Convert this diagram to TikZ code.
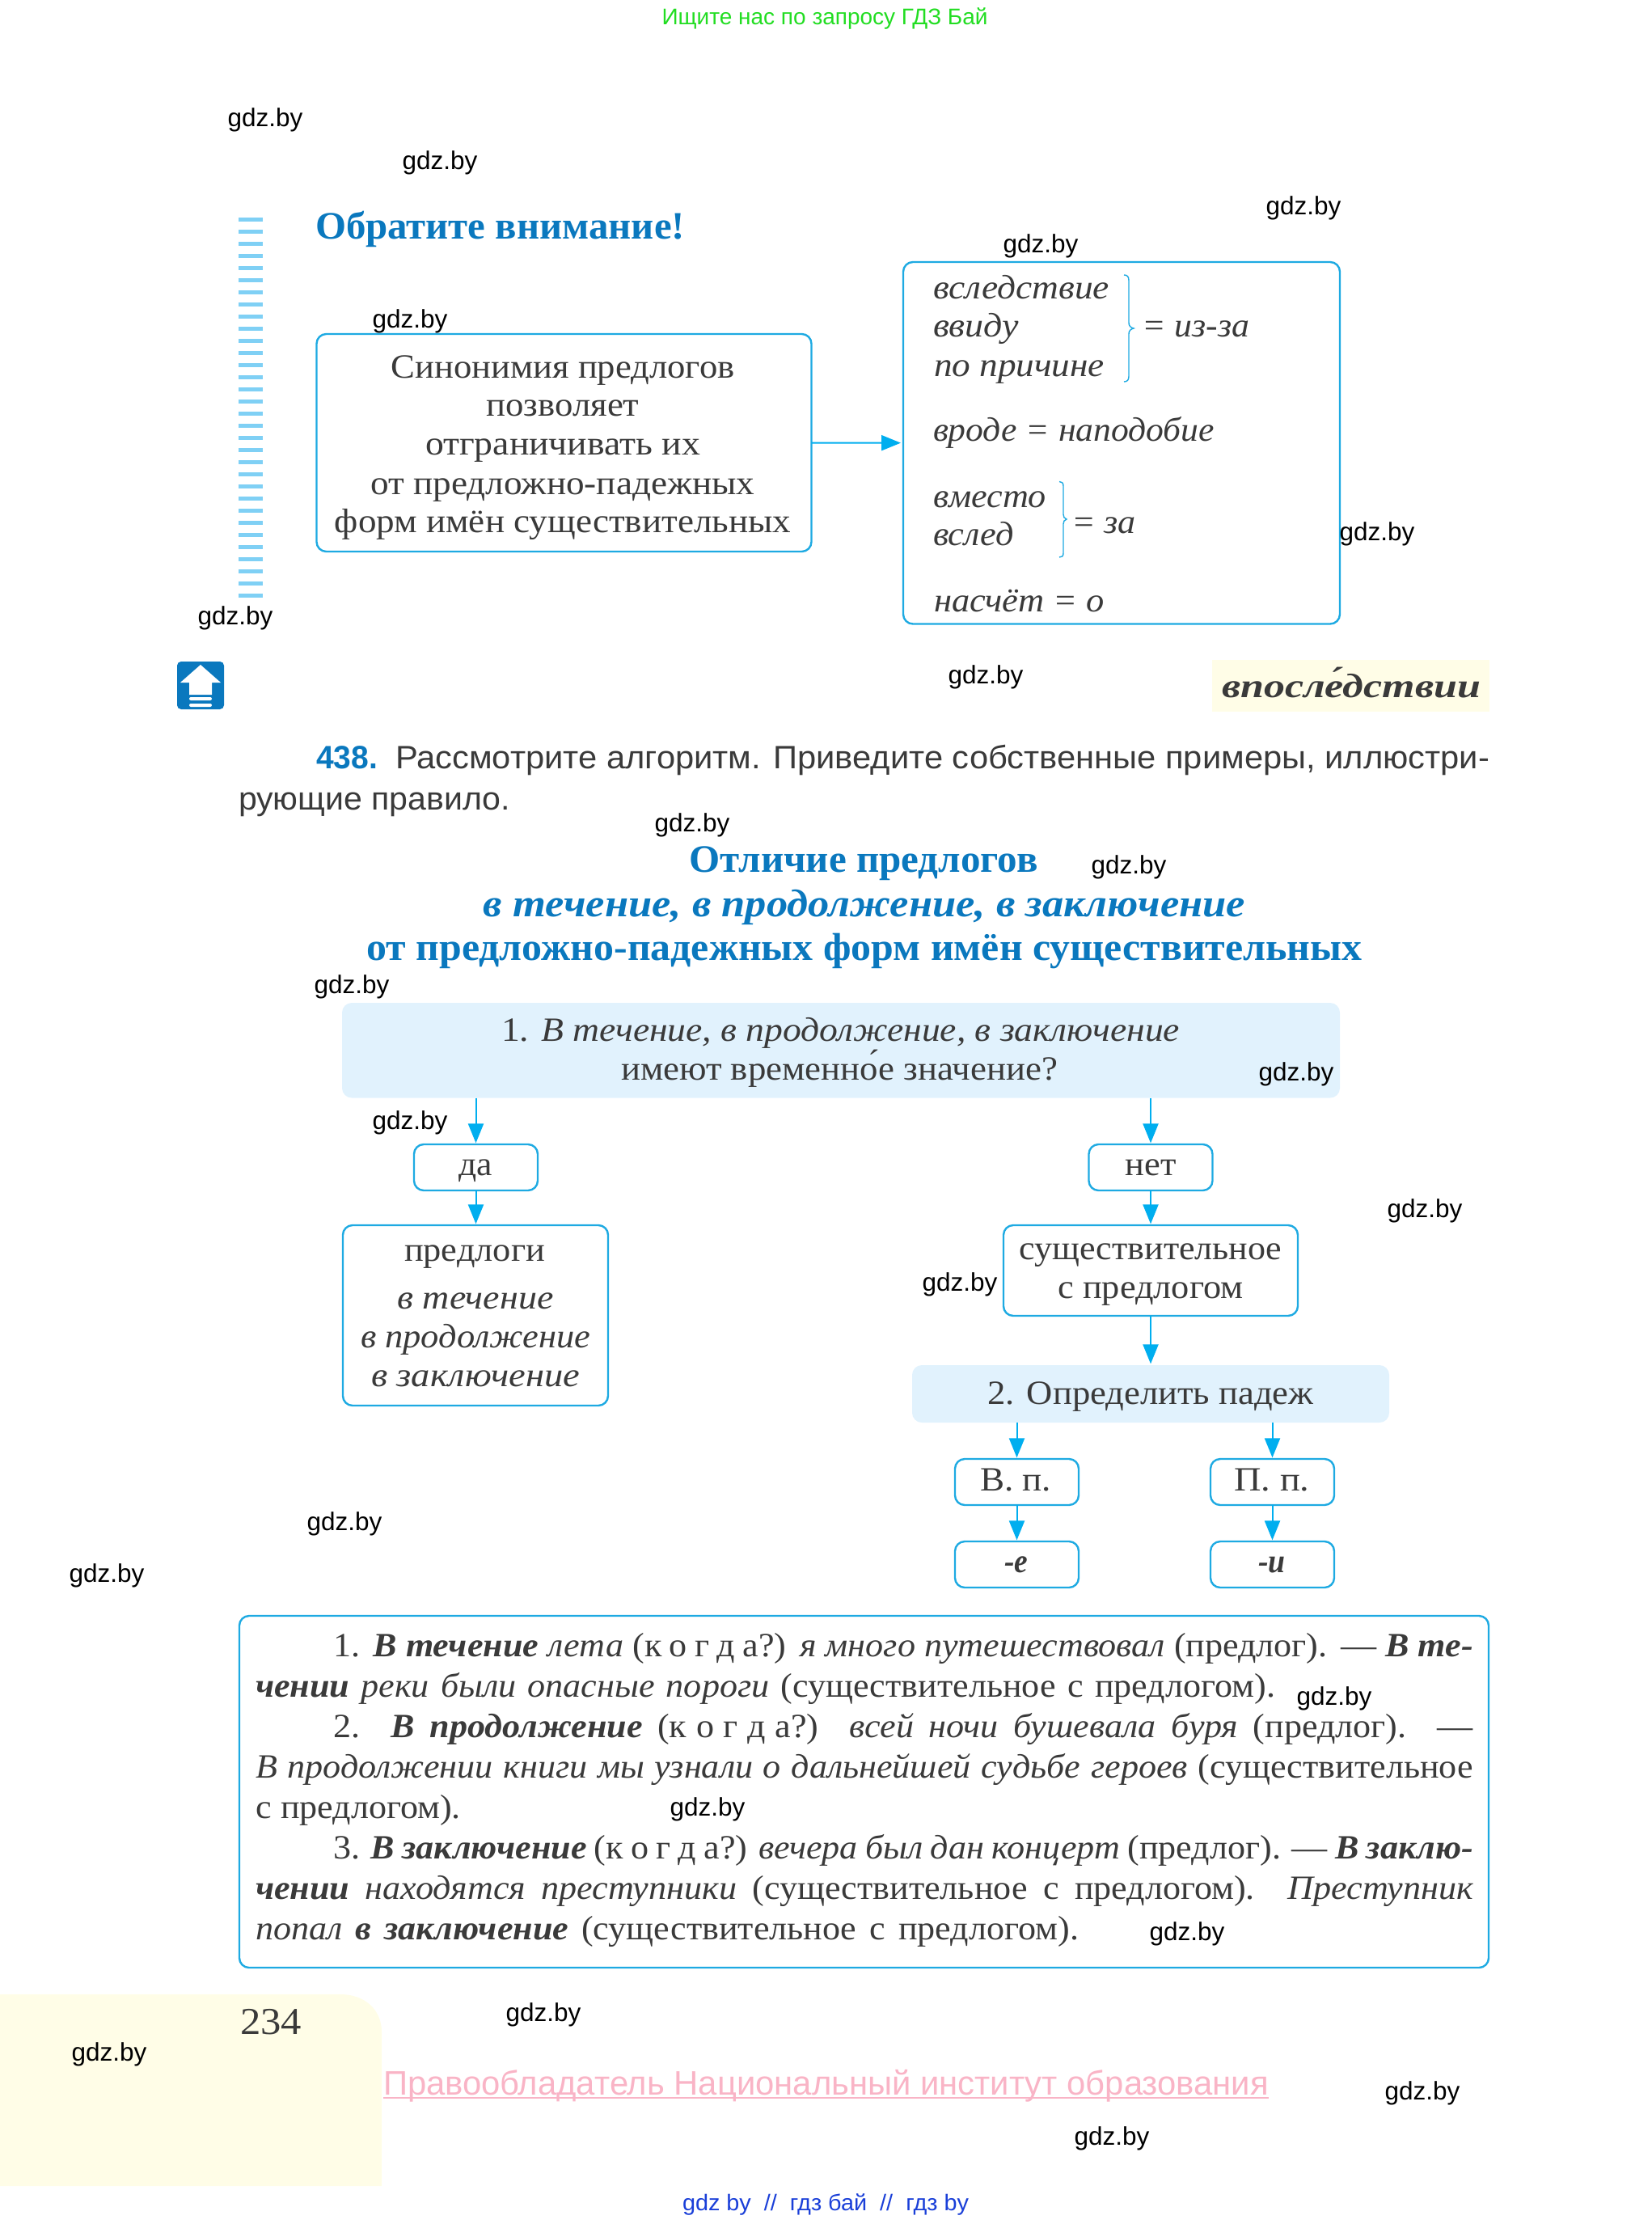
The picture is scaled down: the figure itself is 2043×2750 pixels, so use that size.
\documentclass[tikz,border=0pt]{standalone}
\usepackage{fontspec}
\usepackage{graphicx}
\usetikzlibrary{arrows.meta}
\setmainfont{Liberation Serif}
\setsansfont{Liberation Sans}
\newfontfamily\parafont[FakeStretch=1.05]{Liberation Serif}
\newdimen\pxu \pxu=.5pt
\definecolor{ink}{HTML}{3A3A3A}
\definecolor{titleblue}{HTML}{0A78BE}
\definecolor{boxline}{HTML}{1EAAE2}
\definecolor{arrowc}{HTML}{00AEEF}
\definecolor{stripe}{HTML}{7FD0F5}
\definecolor{qfill}{HTML}{E1F2FD}
\definecolor{ivory}{HTML}{FFFDE7}
\definecolor{wmgreen}{HTML}{22DD22}
\definecolor{wmblue}{HTML}{1A3FD8}
\definecolor{wmpink}{HTML}{F9B4C6}
\newcommand\fS{\fontsize{21}{24}\selectfont}
\newcommand\fI{\fontsize{21}{24}\selectfont\itshape}
\newcommand\fBI{\fontsize{21}{24}\selectfont\bfseries\itshape}
\newcommand\fHB{\fontsize{24}{28}\selectfont\bfseries}
\newcommand\fHBI{\fontsize{24}{28}\selectfont\bfseries\itshape}
\newcommand\fSans{\fontsize{20}{24}\selectfont\sffamily}
\newcount\tn
\newcommand\tl[6][\fS]{\global\advance\tn by 1 \node[txt,anchor=base west,font=#1,yshift=-.8pt] (t\the\tn) at (#2,#3) {\resizebox{#4\pxu}{\height}{\color{#5}#6}};}
\newcommand\tc[6][\fS]{\global\advance\tn by 1 \node[txt,anchor=base,font=#1,yshift=-.8pt] (t\the\tn) at (#2,#3) {\resizebox{#4\pxu}{\height}{\color{#5}#6}};}
\newcommand\pl[4]{\global\advance\tn by 1 \node[txt,anchor=base west,font=\parafont\fontsize{21}{24}\selectfont] (t\the\tn) at (#1,#2) {\spaceskip=.25em plus 1em minus .1em\hbox to #3\pxu{#4}};}
\newcommand\wm[2]{\global\advance\tn by 1 \node[wmark] (t\the\tn) at (#1,#2) {gdz.by};}
\newcommand\bi[1]{{\bfseries\itshape #1}}
\newcommand\ii[1]{{\itshape #1}}
\newcommand\kogda{(к\hskip .22em plus .3em о\hskip .22em plus .3em г\hskip .22em plus .3em д\hskip .22em plus .3em а?)}
\tikzset{
  txt/.style={inner sep=0pt,outer sep=0pt,text=ink},
  wmark/.style={inner sep=0pt,text=black,yshift=-.7pt,font=\fontsize{15.75}{18}\selectfont\sffamily},
  bx/.style={draw=boxline,line width=1.2pt,rounded corners=6pt,fill=white,inner sep=0pt,outer sep=0pt},
  qbx/.style={fill=qfill,rounded corners=6pt,inner sep=0pt,outer sep=0pt},
  arr/.style={draw=arrowc,line width=1pt,shorten >=.8pt,-{Triangle[length=12pt,width=9.5pt]}},
  bracec/.style={draw=boxline,line width=.7pt}
}
\begin{document}
\begin{tikzpicture}[x=.5pt,y=-.5pt]
\useasboundingbox (0,0) rectangle (2043,2750);
% footer
\fill[ivory] (0,2466) -- (421,2466) .. controls (452,2466) and (472,2486) .. (472,2512) -- (472,2703) -- (0,2703) -- cycle;
\fill[ivory] (1499,816) rectangle (1842,880);
% stripes
\foreach \i in {0,...,31} \fill[stripe] (295,{269.2+15*\i}) rectangle (325,{274.2+15*\i});
% icon
\fill[titleblue,rounded corners=2.5pt] (219,818) rectangle (277,877);
\fill[white] (248,822) -- (273,844) -- (262,844) -- (262,859) -- (234,859) -- (234,844) -- (223,844) -- cycle;
\fill[white,rounded corners=1pt] (234,862) rectangle (262,866);
\fill[white,rounded corners=1pt] (234,870) rectangle (262,874);
% top text
\tc[\fontsize{14}{16}\selectfont\sffamily]{1020}{29}{403}{wmgreen}{Ищите нас по запросу ГДЗ Бай}
\tl[\fHB]{390}{294}{457}{titleblue}{Обратите внимание!}
% first block
\node[bx,minimum width=612\pxu,minimum height=269\pxu] (syn) at (697.5,547.5) {};
\node[bx,minimum width=540\pxu,minimum height=447.5\pxu] (list) at (1387,547.75) {};
\draw[arr,shorten >=1.5pt] (syn) -- (list);
\tc{696}{465.5}{425}{ink}{Синонимия предлогов}
\tc{696}{513}{189}{ink}{позволяет}
\tc{696}{561}{340}{ink}{отграничивать их}
\tc{696}{609.5}{475}{ink}{от предложно-падежных}
\tc{696}{657}{564}{ink}{форм имён существительных}
\tl[\fI]{1154}{368}{218}{ink}{вследствие}
\tl[\fI]{1154}{415}{106}{ink}{ввиду}
\tl[\fI]{1155}{464}{211}{ink}{по причине}
\tl[\fI]{1412}{415}{133}{ink}{= из-за}
\tl[\fI]{1154}{544}{348}{ink}{вроде = наподобие}
\tl[\fI]{1154}{626}{140}{ink}{вместо}
\tl[\fI]{1154}{673}{100}{ink}{вслед}
\tl[\fI]{1325}{658}{80}{ink}{= за}
\tl[\fI]{1155}{754.5}{211}{ink}{насчёт = о}
\draw[bracec] (1390,340) .. controls (1394,340) and (1396,342) .. (1396,347) -- (1396,399) .. controls (1396,403) and (1398,405) .. (1402,406) .. controls (1398,407) and (1396,409) .. (1396,413) -- (1396,465) .. controls (1396,470) and (1394,472) .. (1390,472);
\draw[bracec] (1310,595.5) .. controls (1313,595.5) and (1315,597) .. (1315,601) -- (1315,636) .. controls (1315,639) and (1316,641) .. (1319,642) .. controls (1316,643) and (1315,645) .. (1315,648) -- (1315,684) .. controls (1315,688) and (1313,689) .. (1310,689);
\tl[\fBI]{1511}{861}{320}{ink}{впосле́дствии}
% task
\tl[\fSans\bfseries]{391}{949}{76}{titleblue}{438.}
\tl[\fSans]{489}{949}{1353}{ink}{Рассмотрите алгоритм. Приведите собственные примеры, иллюстри-}
\tl[\fSans]{295}{1000}{336}{ink}{рующие правило.}
\tc[\fHB]{1068}{1077}{431}{titleblue}{Отличие предлогов}
\tc[\fHBI]{1069}{1132}{942}{titleblue}{в течение, в продолжение, в заключение}
\tc[\fHB]{1069}{1186}{1231}{titleblue}{от предложно-падежных форм имён существительных}
% flow chart
\node[qbx,minimum width=1234\pxu,minimum height=117.5\pxu] (q1) at (1040,1298.75) {};
\node[bx,minimum width=153\pxu,minimum height=57\pxu] (da) at (588.5,1443.5) {};
\node[bx,minimum width=153\pxu,minimum height=57\pxu] (net) at (1423,1443.5) {};
\node[bx,minimum width=328\pxu,minimum height=223\pxu] (prep) at (588,1626.5) {};
\node[bx,minimum width=364\pxu,minimum height=112\pxu] (noun) at (1423,1571) {};
\node[qbx,minimum width=590\pxu,minimum height=71\pxu] (q2) at (1423,1723.5) {};
\node[bx,minimum width=153\pxu,minimum height=57\pxu] (vp) at (1257.5,1832.5) {};
\node[bx,minimum width=153\pxu,minimum height=57\pxu] (pp) at (1573.5,1832.5) {};
\node[bx,minimum width=153\pxu,minimum height=57\pxu] (ve) at (1257.5,1934.5) {};
\node[bx,minimum width=153\pxu,minimum height=57\pxu] (pi) at (1573.5,1934.5) {};
\draw[arr] (da.north |- q1.south) -- (da.north);
\draw[arr] (net.north |- q1.south) -- (net.north);
\draw[arr] (da) -- (prep.north -| da.south);
\draw[arr] (net) -- (noun);
\draw[arr] (noun) -- (q2);
\draw[arr] (vp.north |- q2.south) -- (vp.north);
\draw[arr] (pp.north |- q2.south) -- (pp.north);
\draw[arr] (vp) -- (ve);
\draw[arr] (pp) -- (pi);
\tl{620}{1286}{839}{ink}{1. \ii{В течение, в продолжение, в заключение}}
\tc{1038}{1334}{540}{ink}{имеют временно́е значение?}
\tc{588}{1452}{41.5}{ink}{да}
\tc{1423}{1452}{63}{ink}{нет}
\tc{587}{1557.5}{174}{ink}{предлоги}
\tc[\fI]{588}{1617}{193}{ink}{в течение}
\tc[\fI]{588}{1665}{284}{ink}{в продолжение}
\tc[\fI]{588}{1713}{258}{ink}{в заключение}
\tc{1423}{1556}{325}{ink}{существительное}
\tc{1423}{1604}{229}{ink}{с предлогом}
\tc{1423}{1735}{403}{ink}{2. Определить падеж}
\tc{1256}{1842}{88}{ink}{В. п.}
\tc{1573}{1842}{93}{ink}{П. п.}
\tc[\fBI]{1256.5}{1943}{29}{ink}{-е}
\tc[\fBI]{1573}{1943}{33.5}{ink}{-и}
% examples
\node[bx,fill=none,minimum width=1545\pxu,minimum height=435\pxu] (ex) at (1068.5,2215.5) {};
\pl{412}{2048}{1410}{1. \bi{В течение} \ii{лета} \kogda{} \ii{я много путешествовал} (предлог). — \bi{В те-}}
\pl{316}{2098}{1261}{\bi{чении} \ii{реки были опасные пороги} (существительное с предлогом).}
\pl{412}{2148}{1410}{2. \bi{В продолжение} \kogda{} \ii{всей ночи бушевала буря} (предлог). —}
\pl{316}{2198}{1506}{\ii{В продолжении книги мы узнали о дальнейшей судьбе героев} (существительное}
\pl{316}{2248}{254}{с предлогом).}
\pl{412}{2298}{1410}{3. \bi{В заключение} \kogda{} \ii{вечера был дан концерт} (предлог). — \bi{В заклю-}}
\pl{316}{2348}{1506}{\bi{чении} \ii{находятся преступники} (существительное с предлогом). \ii{Преступник}}
\pl{316}{2398}{1018}{\ii{попал} \bi{в заключение} (существительное с предлогом).}
% footer texts
\tl[\fontsize{23.5}{26}\selectfont]{297}{2514}{76}{ink}{234}
\node[txt,anchor=base west,font=\fontsize{21}{24}\selectfont\sffamily,text=wmpink] (pink) at (474,2590) {\resizebox{1095\pxu}{\height}{Правообладатель Национальный институт образования}};
\draw[wmpink,line width=1pt] ([yshift=-2pt]pink.base west) -- ([yshift=-2pt]pink.base east);
\tl[\fontsize{14}{16}\selectfont\sffamily]{844}{2732}{354}{wmblue}{gdz by \ // \ гдз бай \ // \ гдз by}
% watermarks
\wm{328}{147}\wm{544}{200}\wm{1612}{256}\wm{1287}{303}\wm{507}{396}\wm{1703}{659}\wm{291}{763}\wm{1219}{836}
\wm{856}{1019}\wm{1396}{1071}\wm{435}{1219}\wm{1603}{1327}\wm{507}{1387}\wm{1762}{1496}\wm{1187}{1587}\wm{426}{1883}
\wm{132}{1946.5}\wm{1650}{2099}\wm{875}{2236}\wm{1468}{2390}\wm{672}{2490}\wm{135}{2539}\wm{1759}{2587}\wm{1375}{2643}
\end{tikzpicture}
\end{document}
